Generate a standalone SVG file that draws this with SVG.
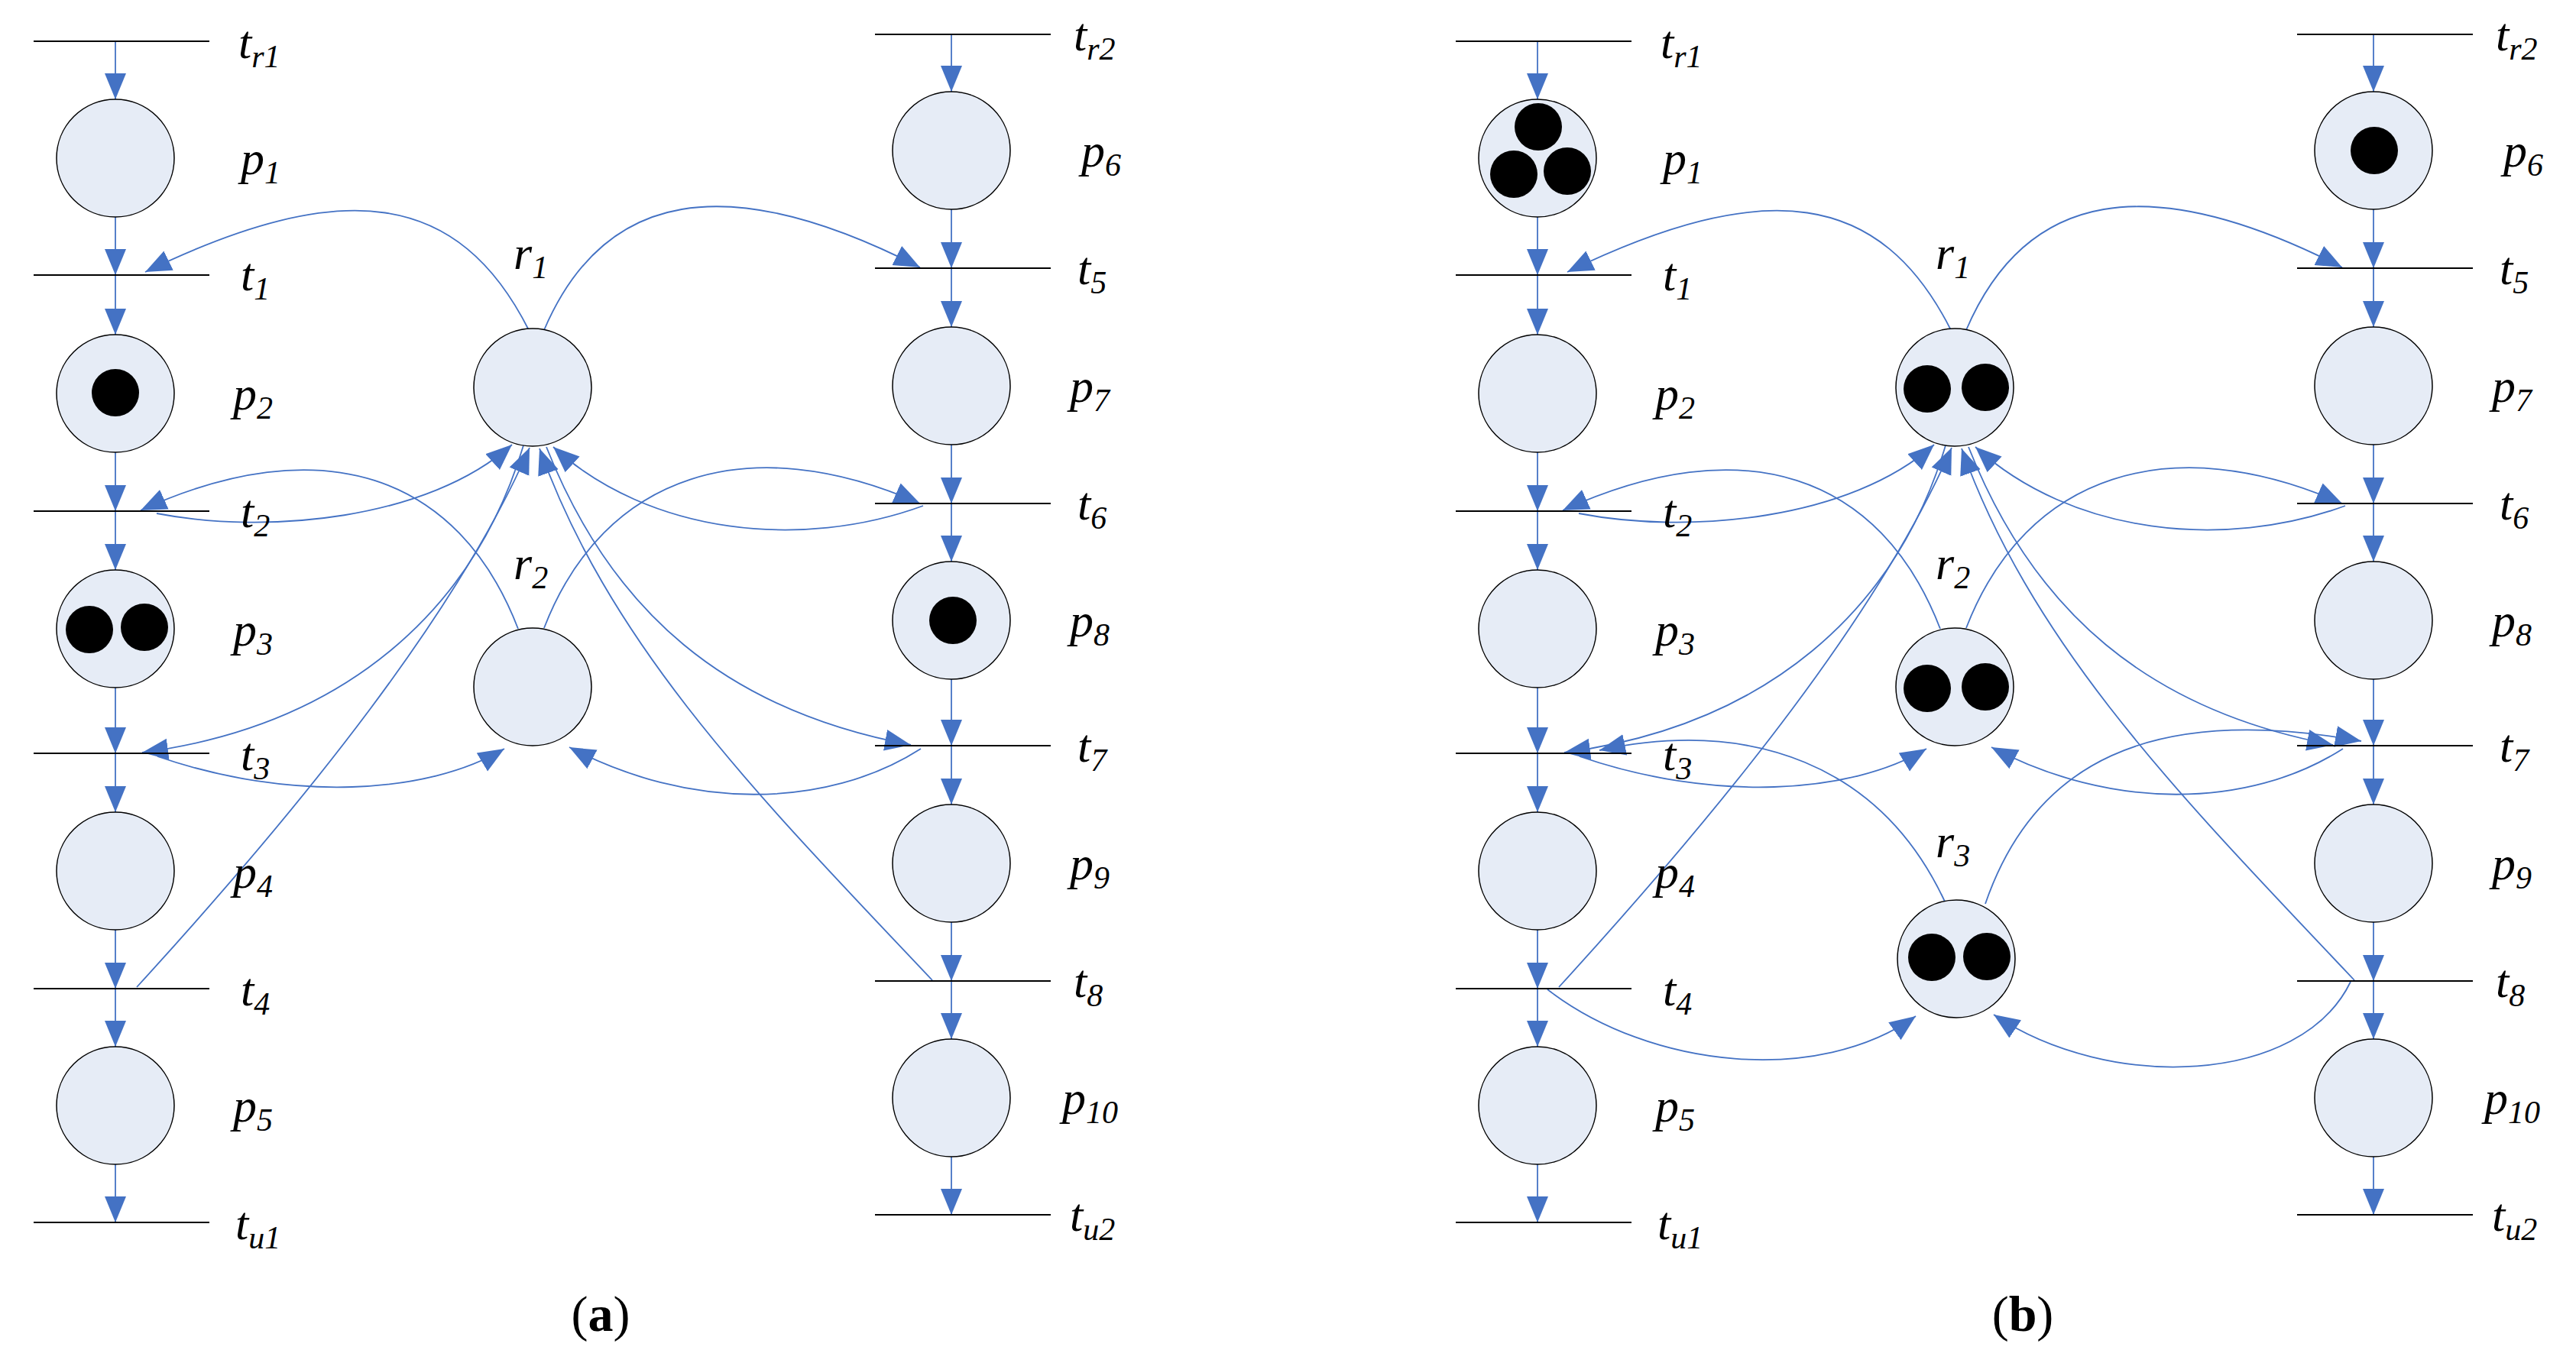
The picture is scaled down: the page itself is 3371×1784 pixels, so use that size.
<svg xmlns="http://www.w3.org/2000/svg" width="3371" height="1784" viewBox="0 0 3371 1784">
<defs>
<marker id="ah" markerUnits="userSpaceOnUse" markerWidth="36" markerHeight="30" refX="34" refY="14" orient="auto"><path d="M0,0 L34,14 L0,28 z" fill="#4472C4"/></marker>
<style>
.pl{fill:#E6ECF6;stroke:#000;stroke-width:1.5}
.tk{fill:#000}
.tr{stroke:#000;stroke-width:2}
.arc{fill:none;stroke:#4472C4;stroke-width:1.8;marker-end:url(#ah)}
.lb{font-family:"Liberation Serif","Times New Roman",serif;font-style:italic;font-size:62px;fill:#000}
.sb{font-size:42px}
.cap{font-family:"Liberation Serif","Times New Roman",serif;font-size:66px;fill:#000}
</style>
</defs>
<rect width="3371" height="1784" fill="#fff"/>

<!-- Panel (a) -->
<g id="panel-a">
<g id="connectors-a">
<path class="arc" d="M151 54 L151 130"/>
<path class="arc" d="M151 284 L151 360"/>
<path class="arc" d="M151 360 L151 438"/>
<path class="arc" d="M151 592 L151 669"/>
<path class="arc" d="M151 669 L151 746"/>
<path class="arc" d="M151 900 L151 986"/>
<path class="arc" d="M151 986 L151 1063"/>
<path class="arc" d="M151 1217 L151 1294"/>
<path class="arc" d="M151 1294 L151 1370"/>
<path class="arc" d="M151 1524 L151 1600"/>
<path class="arc" d="M1245 45 L1245 120"/>
<path class="arc" d="M1245 274 L1245 351"/>
<path class="arc" d="M1245 351 L1245 428"/>
<path class="arc" d="M1245 582 L1245 659"/>
<path class="arc" d="M1245 659 L1245 735"/>
<path class="arc" d="M1245 889 L1245 976"/>
<path class="arc" d="M1245 976 L1245 1053"/>
<path class="arc" d="M1245 1207 L1245 1284"/>
<path class="arc" d="M1245 1284 L1245 1360"/>
<path class="arc" d="M1245 1514 L1245 1590"/>
<path class="arc" d="M692 432 C600 250 450 230 190 356"/>
<path class="arc" d="M712 432 C790 250 950 220 1204 350"/>
<path class="arc" d="M678 823 C600 620 420 560 184 668"/>
<path class="arc" d="M205 672 C350 700 560 680 670 582"/>
<path class="arc" d="M712 822 C790 620 980 560 1204 659"/>
<path class="arc" d="M1208 662 C1050 720 850 700 724 585"/>
<path class="arc" d="M685 583 C620 800 450 950 186 985"/>
<path class="arc" d="M206 990 C380 1050 560 1040 660 980"/>
<path class="arc" d="M715 585 C800 800 950 930 1192 975"/>
<path class="arc" d="M1205 980 C1080 1060 900 1060 745 978"/>
<path class="arc" d="M179 1292 C400 1050 600 800 693 586"/>
<path class="arc" d="M1220 1283 C1000 1050 800 850 706 587"/>
</g>
<g id="a-tr1"><line class="tr" x1="44" y1="54" x2="274" y2="54"/><text class="lb" x="312" y="76">t<tspan class="sb" dy="12">r1</tspan></text></g>
<g id="a-p1"><circle class="pl" cx="151" cy="207" r="77"/><text class="lb" x="315" y="228">p<tspan class="sb" dy="12">1</tspan></text></g>
<g id="a-t1"><line class="tr" x1="44" y1="360" x2="274" y2="360"/><text class="lb" x="315" y="380">t<tspan class="sb" dy="12">1</tspan></text></g>
<g id="a-p2"><circle class="pl" cx="151" cy="515" r="77"/><circle class="tk" cx="151" cy="514" r="31"/><text class="lb" x="305" y="536">p<tspan class="sb" dy="12">2</tspan></text></g>
<g id="a-t2"><line class="tr" x1="44" y1="669" x2="274" y2="669"/><text class="lb" x="315" y="690">t<tspan class="sb" dy="12">2</tspan></text></g>
<g id="a-p3"><circle class="pl" cx="151" cy="823" r="77"/><circle class="tk" cx="117" cy="824" r="31"/><circle class="tk" cx="189" cy="821" r="31"/><text class="lb" x="305" y="845">p<tspan class="sb" dy="12">3</tspan></text></g>
<g id="a-t3"><line class="tr" x1="44" y1="986" x2="274" y2="986"/><text class="lb" x="315" y="1008">t<tspan class="sb" dy="12">3</tspan></text></g>
<g id="a-p4"><circle class="pl" cx="151" cy="1140" r="77"/><text class="lb" x="305" y="1162">p<tspan class="sb" dy="12">4</tspan></text></g>
<g id="a-t4"><line class="tr" x1="44" y1="1294" x2="274" y2="1294"/><text class="lb" x="315" y="1316">t<tspan class="sb" dy="12">4</tspan></text></g>
<g id="a-p5"><circle class="pl" cx="151" cy="1447" r="77"/><text class="lb" x="305" y="1468">p<tspan class="sb" dy="12">5</tspan></text></g>
<g id="a-tu1"><line class="tr" x1="44" y1="1600" x2="274" y2="1600"/><text class="lb" x="308" y="1622">t<tspan class="sb" dy="12">u1</tspan></text></g>

<g id="a-tr2"><line class="tr" x1="1145" y1="45" x2="1375" y2="45"/><text class="lb" x="1405" y="66">t<tspan class="sb" dy="12">r2</tspan></text></g>
<g id="a-p6"><circle class="pl" cx="1245" cy="197" r="77"/><text class="lb" x="1415" y="218">p<tspan class="sb" dy="12">6</tspan></text></g>
<g id="a-t5"><line class="tr" x1="1145" y1="351" x2="1375" y2="351"/><text class="lb" x="1410" y="372">t<tspan class="sb" dy="12">5</tspan></text></g>
<g id="a-p7"><circle class="pl" cx="1245" cy="505" r="77"/><text class="lb" x="1400" y="526">p<tspan class="sb" dy="12">7</tspan></text></g>
<g id="a-t6"><line class="tr" x1="1145" y1="659" x2="1375" y2="659"/><text class="lb" x="1410" y="680">t<tspan class="sb" dy="12">6</tspan></text></g>
<g id="a-p8"><circle class="pl" cx="1245" cy="812" r="77"/><circle class="tk" cx="1247" cy="812" r="31"/><text class="lb" x="1400" y="833">p<tspan class="sb" dy="12">8</tspan></text></g>
<g id="a-t7"><line class="tr" x1="1145" y1="976" x2="1375" y2="976"/><text class="lb" x="1410" y="997">t<tspan class="sb" dy="12">7</tspan></text></g>
<g id="a-p9"><circle class="pl" cx="1245" cy="1130" r="77"/><text class="lb" x="1400" y="1151">p<tspan class="sb" dy="12">9</tspan></text></g>
<g id="a-t8"><line class="tr" x1="1145" y1="1284" x2="1375" y2="1284"/><text class="lb" x="1405" y="1305">t<tspan class="sb" dy="12">8</tspan></text></g>
<g id="a-p10"><circle class="pl" cx="1245" cy="1437" r="77"/><text class="lb" x="1390" y="1458">p<tspan class="sb" dy="12">10</tspan></text></g>
<g id="a-tu2"><line class="tr" x1="1145" y1="1590" x2="1375" y2="1590"/><text class="lb" x="1400" y="1611">t<tspan class="sb" dy="12">u2</tspan></text></g>

<g id="a-r1"><circle class="pl" cx="697" cy="507" r="77"/><text class="lb" x="672" y="352">r<tspan class="sb" dy="12">1</tspan></text></g>
<g id="a-r2"><circle class="pl" cx="697" cy="899" r="77"/><text class="lb" x="672" y="758">r<tspan class="sb" dy="12">2</tspan></text></g>
<text class="cap" x="786" y="1742" text-anchor="middle">(<tspan font-weight="bold">a</tspan>)</text>
</g>

<!-- Panel (b) -->
<g id="panel-b" transform="translate(1861,0)">
<g id="connectors-b">
<path class="arc" d="M151 54 L151 130"/>
<path class="arc" d="M151 284 L151 360"/>
<path class="arc" d="M151 360 L151 438"/>
<path class="arc" d="M151 592 L151 669"/>
<path class="arc" d="M151 669 L151 746"/>
<path class="arc" d="M151 900 L151 986"/>
<path class="arc" d="M151 986 L151 1063"/>
<path class="arc" d="M151 1217 L151 1294"/>
<path class="arc" d="M151 1294 L151 1370"/>
<path class="arc" d="M151 1524 L151 1600"/>
<path class="arc" d="M1245 45 L1245 120"/>
<path class="arc" d="M1245 274 L1245 351"/>
<path class="arc" d="M1245 351 L1245 428"/>
<path class="arc" d="M1245 582 L1245 659"/>
<path class="arc" d="M1245 659 L1245 735"/>
<path class="arc" d="M1245 889 L1245 976"/>
<path class="arc" d="M1245 976 L1245 1053"/>
<path class="arc" d="M1245 1207 L1245 1284"/>
<path class="arc" d="M1245 1284 L1245 1360"/>
<path class="arc" d="M1245 1514 L1245 1590"/>
<path class="arc" d="M692 432 C600 250 450 230 190 356"/>
<path class="arc" d="M712 432 C790 250 950 220 1204 350"/>
<path class="arc" d="M678 823 C600 620 420 560 184 668"/>
<path class="arc" d="M205 672 C350 700 560 680 670 582"/>
<path class="arc" d="M712 822 C790 620 980 560 1204 659"/>
<path class="arc" d="M1208 662 C1050 720 850 700 724 585"/>
<path class="arc" d="M685 583 C620 800 450 950 186 985"/>
<path class="arc" d="M206 990 C380 1050 560 1040 660 980"/>
<path class="arc" d="M715 585 C800 800 950 930 1192 975"/>
<path class="arc" d="M1205 980 C1080 1060 900 1060 745 978"/>
<path class="arc" d="M179 1292 C400 1050 600 800 693 586"/>
<path class="arc" d="M1220 1283 C1000 1050 800 850 706 587"/>
<path class="arc" d="M684 1180 C600 1000 430 940 232 982"/>
<path class="arc" d="M737 1183 C800 1000 950 920 1229 970"/>
<path class="arc" d="M164 1295 C300 1400 520 1420 646 1330"/>
<path class="arc" d="M1215 1285 C1150 1420 900 1430 748 1328"/>
</g>
<g id="b-tr1"><line class="tr" x1="44" y1="54" x2="274" y2="54"/><text class="lb" x="312" y="76">t<tspan class="sb" dy="12">r1</tspan></text></g>
<g id="b-p1"><circle class="pl" cx="151" cy="207" r="77"/><circle class="tk" cx="152" cy="166" r="31"/><circle class="tk" cx="120" cy="228" r="31"/><circle class="tk" cx="190" cy="224" r="31"/><text class="lb" x="315" y="228">p<tspan class="sb" dy="12">1</tspan></text></g>
<g id="b-t1"><line class="tr" x1="44" y1="360" x2="274" y2="360"/><text class="lb" x="315" y="380">t<tspan class="sb" dy="12">1</tspan></text></g>
<g id="b-p2"><circle class="pl" cx="151" cy="515" r="77"/><text class="lb" x="305" y="536">p<tspan class="sb" dy="12">2</tspan></text></g>
<g id="b-t2"><line class="tr" x1="44" y1="669" x2="274" y2="669"/><text class="lb" x="315" y="690">t<tspan class="sb" dy="12">2</tspan></text></g>
<g id="b-p3"><circle class="pl" cx="151" cy="823" r="77"/><text class="lb" x="305" y="845">p<tspan class="sb" dy="12">3</tspan></text></g>
<g id="b-t3"><line class="tr" x1="44" y1="986" x2="274" y2="986"/><text class="lb" x="315" y="1008">t<tspan class="sb" dy="12">3</tspan></text></g>
<g id="b-p4"><circle class="pl" cx="151" cy="1140" r="77"/><text class="lb" x="305" y="1162">p<tspan class="sb" dy="12">4</tspan></text></g>
<g id="b-t4"><line class="tr" x1="44" y1="1294" x2="274" y2="1294"/><text class="lb" x="315" y="1316">t<tspan class="sb" dy="12">4</tspan></text></g>
<g id="b-p5"><circle class="pl" cx="151" cy="1447" r="77"/><text class="lb" x="305" y="1468">p<tspan class="sb" dy="12">5</tspan></text></g>
<g id="b-tu1"><line class="tr" x1="44" y1="1600" x2="274" y2="1600"/><text class="lb" x="308" y="1622">t<tspan class="sb" dy="12">u1</tspan></text></g>

<g id="b-tr2"><line class="tr" x1="1145" y1="45" x2="1375" y2="45"/><text class="lb" x="1405" y="66">t<tspan class="sb" dy="12">r2</tspan></text></g>
<g id="b-p6"><circle class="pl" cx="1245" cy="197" r="77"/><circle class="tk" cx="1246" cy="197" r="31"/><text class="lb" x="1415" y="218">p<tspan class="sb" dy="12">6</tspan></text></g>
<g id="b-t5"><line class="tr" x1="1145" y1="351" x2="1375" y2="351"/><text class="lb" x="1410" y="372">t<tspan class="sb" dy="12">5</tspan></text></g>
<g id="b-p7"><circle class="pl" cx="1245" cy="505" r="77"/><text class="lb" x="1400" y="526">p<tspan class="sb" dy="12">7</tspan></text></g>
<g id="b-t6"><line class="tr" x1="1145" y1="659" x2="1375" y2="659"/><text class="lb" x="1410" y="680">t<tspan class="sb" dy="12">6</tspan></text></g>
<g id="b-p8"><circle class="pl" cx="1245" cy="812" r="77"/><text class="lb" x="1400" y="833">p<tspan class="sb" dy="12">8</tspan></text></g>
<g id="b-t7"><line class="tr" x1="1145" y1="976" x2="1375" y2="976"/><text class="lb" x="1410" y="997">t<tspan class="sb" dy="12">7</tspan></text></g>
<g id="b-p9"><circle class="pl" cx="1245" cy="1130" r="77"/><text class="lb" x="1400" y="1151">p<tspan class="sb" dy="12">9</tspan></text></g>
<g id="b-t8"><line class="tr" x1="1145" y1="1284" x2="1375" y2="1284"/><text class="lb" x="1405" y="1305">t<tspan class="sb" dy="12">8</tspan></text></g>
<g id="b-p10"><circle class="pl" cx="1245" cy="1437" r="77"/><text class="lb" x="1390" y="1458">p<tspan class="sb" dy="12">10</tspan></text></g>
<g id="b-tu2"><line class="tr" x1="1145" y1="1590" x2="1375" y2="1590"/><text class="lb" x="1400" y="1611">t<tspan class="sb" dy="12">u2</tspan></text></g>

<g id="b-r1"><circle class="pl" cx="697" cy="507" r="77"/><circle class="tk" cx="661" cy="509" r="31"/><circle class="tk" cx="737" cy="507" r="31"/><text class="lb" x="672" y="352">r<tspan class="sb" dy="12">1</tspan></text></g>
<g id="b-r2"><circle class="pl" cx="697" cy="899" r="77"/><circle class="tk" cx="661" cy="901" r="31"/><circle class="tk" cx="737" cy="899" r="31"/><text class="lb" x="672" y="758">r<tspan class="sb" dy="12">2</tspan></text></g>
<g id="b-r3"><circle class="pl" cx="699" cy="1255" r="77"/><circle class="tk" cx="667" cy="1253" r="31"/><circle class="tk" cx="739" cy="1252" r="31"/><text class="lb" x="672" y="1122">r<tspan class="sb" dy="12">3</tspan></text></g>
<text class="cap" x="786" y="1742" text-anchor="middle">(<tspan font-weight="bold">b</tspan>)</text>
</g>
</svg>
